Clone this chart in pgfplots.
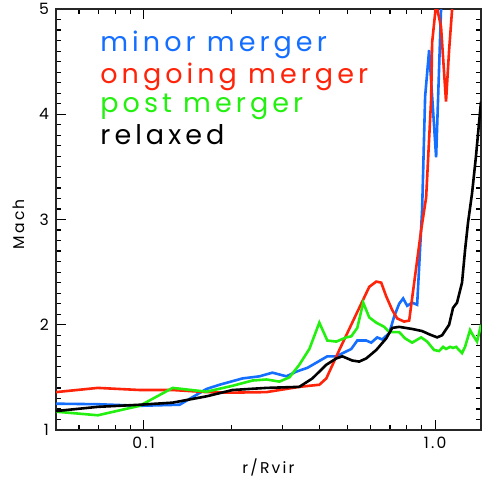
\documentclass[border=0pt]{standalone}
\usepackage{fontspec}
\setmainfont{Poppins}
\newfontfamily\legfont{Poppins}[LetterSpace=15]
\newfontfamily\tickfont{Poppins}[LetterSpace=14]
\usepackage{pgfplots}
\pgfplotsset{compat=1.18}

\definecolor{cblue}{RGB}{20,110,255}
\definecolor{cred}{RGB}{255,35,10}
\definecolor{cgreen}{RGB}{35,240,15}

\begin{document}
\begin{tikzpicture}
\useasboundingbox (-28pt,-24pt) rectangle (213.5pt,215pt);
\begin{axis}[
    at={(0,0)}, anchor=south west,
    scale only axis,
    width=212.5pt, height=210.5pt,
    xmode=log,
    xmin=0.05, xmax=1.437,
    ymin=1, ymax=5,
    xtick={0.1,1}, xticklabels={0.1,1.0},
    minor xtick={0.06,0.07,0.08,0.09,0.2,0.3,0.4,0.5,0.6,0.7,0.8,0.9},
    ytick={1,2,3,4,5},
    minor y tick num=9,
    tick align=inside,
    major tick length=5pt, minor tick length=2.5pt,
    every tick/.style={black, line width=0.6pt},
    axis line style={line width=0.8pt, black!85},
    tick label style={font=\tickfont\fontsize{7.8}{9}\selectfont},
    /pgf/number format/assume math mode=true,
    label style={font=\tickfont\fontsize{7.8}{9}\selectfont},
    xlabel={r/Rvir},
    ylabel={Mach},
    xlabel style={at={(axis description cs:0.5,-0.09)}, anchor=center},
    ylabel style={at={(axis description cs:-0.087,0.489)}, anchor=center},
    every axis plot/.append style={line width=1.3pt, mark=none},
    clip=true,
]
% minor merger
\addplot[cblue] coordinates {
(0.050,1.25) (0.0696,1.245) (0.0969,1.23) (0.1328,1.24) (0.1643,1.39)
(0.1821,1.43) (0.2183,1.49) (0.2496,1.51) (0.2765,1.545) (0.3088,1.51)
(0.3342,1.555) (0.3643,1.59) (0.4267,1.70) (0.4581,1.70) (0.5156,1.77)
(0.5406,1.85) (0.5802,1.85) (0.6037,1.83) (0.6330,1.88) (0.6584,1.86)
(0.6959,1.92) (0.7238,2.08) (0.7529,2.20) (0.7770,2.25) (0.8019,2.18)
(0.8341,2.21) (0.8677,2.19) (0.8815,2.55) (0.9026,3.10) (0.9242,4.17)
(0.9538,4.61) (1.008,3.59) (1.048,5.00) (1.060,5.30)
};
% ongoing merger
\addplot[cred] coordinates {
(0.050,1.36) (0.0696,1.40) (0.0969,1.38) (0.1257,1.38) (0.1643,1.36)
(0.2017,1.355) (0.2638,1.36) (0.342,1.41) (0.4006,1.43) (0.4233,1.49)
(0.469,1.76) (0.549,2.16) (0.5943,2.36) (0.628,2.41) (0.6533,2.40)
(0.6795,2.27) (0.7125,2.14) (0.7412,2.06) (0.7831,2.03) (0.8147,2.04)
(0.8956,2.90) (0.9316,3.21) (0.969,4.14) (0.9766,4.68) (1.008,5.05)
(1.048,4.83) (1.090,4.12) (1.117,4.61) (1.144,5.00) (1.171,5.40)
};
% post merger
\addplot[cgreen] coordinates {
(0.050,1.174) (0.0696,1.14) (0.0969,1.23) (0.1257,1.40) (0.1643,1.364)
(0.2017,1.42) (0.2361,1.47) (0.2638,1.48) (0.2922,1.46) (0.3162,1.50)
(0.342,1.62) (0.3703,1.77) (0.4006,2.02) (0.4267,1.85) (0.4581,1.84)
(0.4956,1.88) (0.5156,1.89) (0.5406,1.97) (0.5666,2.21) (0.5943,2.07)
(0.628,2.02) (0.6689,1.98) (0.6959,1.93) (0.7529,1.93) (0.7894,1.87)
(0.8341,1.83) (0.8956,1.88) (0.9389,1.84) (0.9921,1.76) (1.032,1.75)
(1.065,1.79) (1.090,1.77) (1.126,1.79) (1.152,1.78) (1.180,1.79)
(1.237,1.73) (1.267,1.79) (1.318,1.95) (1.349,1.90) (1.393,1.84)
(1.437,2.00)
};
% relaxed
\addplot[black] coordinates {
(0.050,1.18) (0.0696,1.22) (0.0969,1.24) (0.1257,1.26) (0.1643,1.32)
(0.2017,1.38) (0.2638,1.40) (0.342,1.41) (0.3792,1.49) (0.4233,1.62)
(0.4581,1.68) (0.4803,1.70) (0.5197,1.66) (0.549,1.65) (0.5802,1.68)
(0.628,1.76) (0.6795,1.87) (0.7125,1.97) (0.7529,1.98) (0.8341,1.96)
(0.9026,1.94) (0.9538,1.91) (1.016,1.88) (1.057,1.90) (1.117,2.00)
(1.152,2.16) (1.189,2.21) (1.237,2.40) (1.267,2.71) (1.297,2.97)
(1.339,3.25) (1.381,3.60) (1.437,4.12)
};
\begin{scope}[every node/.style={anchor=base west, inner sep=0pt,
    font=\legfont\fontsize{13.5}{16}\selectfont}]
\node[text=cblue]  at (rel axis cs:0.1035,0.898) {minor merger};
\node[text=cred]   at (rel axis cs:0.1035,0.824) {ongoing merger};
\node[text=cgreen] at (rel axis cs:0.1035,0.753) {post merger};
\node[text=black]  at (rel axis cs:0.1035,0.677) {relaxed};
\end{scope}
\end{axis}
\end{tikzpicture}
\end{document}
